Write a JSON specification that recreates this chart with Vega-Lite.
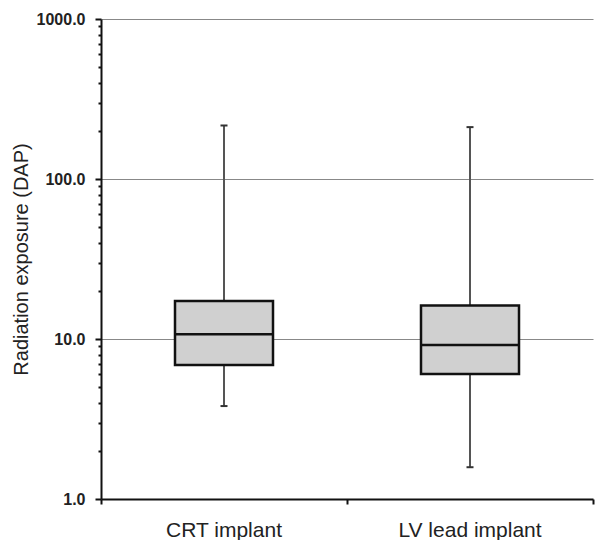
{
  "$schema": "https://vega.github.io/schema/vega-lite/v6.json",
  "width": 492,
  "height": 480,
  "autosize": "none",
  "padding": {"left": 101, "top": 19, "right": 4, "bottom": 41},
  "background": "white",
  "config": {
    "view": {"stroke": null},
    "font": "Liberation Sans"
  },
  "data": {
    "values": [
      {"group": "CRT implant", "min": 3.81, "q1": 6.88, "median": 10.7, "q3": 17.3, "max": 216},
      {"group": "LV lead implant", "min": 1.58, "q1": 6.04, "median": 9.17, "q3": 16.2, "max": 211}
    ]
  },
  "encoding": {
    "x": {
      "field": "group",
      "type": "nominal",
      "sort": null,
      "scale": {"paddingInner": 0, "paddingOuter": 0},
      "axis": {
        "title": null,
        "labelAngle": 0,
        "labelFont": "Liberation Sans",
        "labelFontSize": 21,
        "labelColor": "#222",
        "labelPadding": 15,
        "bandPosition": 1,
        "tickExtra": true,
        "tickSize": 5,
        "tickWidth": 2,
        "tickColor": "#111",
        "domainColor": "#111",
        "domainWidth": 2,
        "grid": false
      }
    }
  },
  "layer": [
    {
      "mark": {"type": "rule", "color": "#555", "strokeWidth": 2},
      "encoding": {
        "y": {
          "field": "min",
          "type": "quantitative",
          "scale": {"type": "log", "domain": [1, 1000], "nice": false},
          "axis": {
            "title": "Radiation exposure (DAP)",
            "titleFont": "Liberation Sans",
            "titleFontSize": 20,
            "titleFontWeight": "normal",
            "titleColor": "#222",
            "titlePadding": 5,
            "values": [1, 2, 3, 4, 5, 6, 7, 8, 9, 10, 20, 30, 40, 50, 60, 70, 80, 90, 100, 200, 300, 400, 500, 600, 700, 800, 900, 1000],
            "labelExpr": "indexof([1, 10, 100, 1000], datum.value) >= 0 ? format(datum.value, '.1f') : ''",
            "labelFont": "Liberation Sans",
            "labelFontSize": 16,
            "labelFontWeight": "bold",
            "labelColor": "#222",
            "labelPadding": 10,
            "labelOverlap": false,
            "tickSize": {"condition": {"test": "indexof([1, 10, 100, 1000], datum.value) >= 0", "value": 6}, "value": 3},
            "tickWidth": 2,
            "tickColor": "#111",
            "domainColor": "#111",
            "domainWidth": 2,
            "grid": true,
            "gridColor": "#888",
            "gridWidth": 1,
            "gridOpacity": {"condition": {"test": "indexof([10, 100, 1000], datum.value) >= 0", "value": 1}, "value": 0}
          }
        },
        "y2": {"field": "max"}
      }
    },
    {
      "mark": {"type": "tick", "color": "#333", "size": 7, "thickness": 2, "opacity": 1},
      "encoding": {"y": {"field": "min", "type": "quantitative"}}
    },
    {
      "mark": {"type": "tick", "color": "#333", "size": 7, "thickness": 2, "opacity": 1},
      "encoding": {"y": {"field": "max", "type": "quantitative"}}
    },
    {
      "mark": {"type": "bar", "size": 98, "fill": "#d0d0d0", "stroke": "#111", "strokeWidth": 2.5},
      "encoding": {
        "y": {"field": "q1", "type": "quantitative"},
        "y2": {"field": "q3"}
      }
    },
    {
      "mark": {"type": "tick", "color": "#111", "size": 98, "thickness": 2.5, "opacity": 1},
      "encoding": {"y": {"field": "median", "type": "quantitative"}}
    }
  ]
}
